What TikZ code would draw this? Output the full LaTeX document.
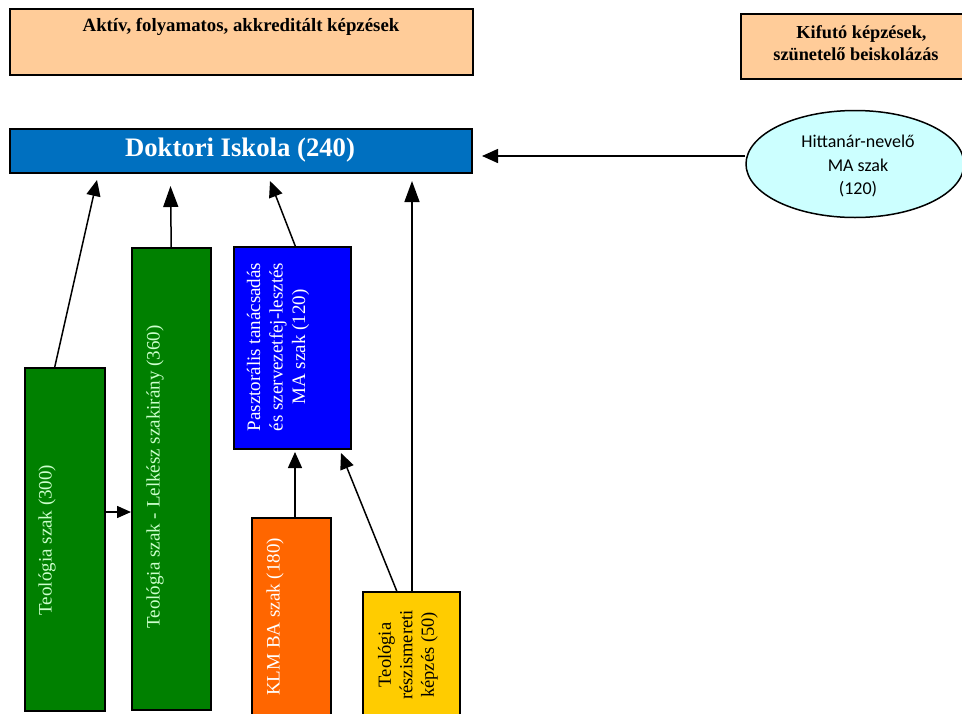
\documentclass[tikz,border=0pt]{standalone}
\usepackage{fontspec}
\setmainfont{Liberation Serif}
\newfontfamily\carlito{Carlito}
\usetikzlibrary{arrows.meta,shapes.geometric}
\definecolor{peach}{HTML}{FFCC99}
\definecolor{docblue}{HTML}{0070C0}
\definecolor{dgreen}{HTML}{008000}
\definecolor{lgreen}{HTML}{CCFFCC}
\definecolor{pblue}{HTML}{0000FF}
\definecolor{korange}{HTML}{FF6600}
\definecolor{tyellow}{HTML}{FFCC00}
\definecolor{lcyan}{HTML}{CCFFFF}
\tikzset{
  box/.style={draw=black, line width=1.5pt, inner sep=0pt, anchor=north west},
  arr/.style={line width=1.5pt, -{Triangle[length=16pt,width=14pt]}},
  arrlong/.style={line width=1.5pt, -{Triangle[length=21pt,width=15pt]}},
  arrsmall/.style={line width=1.5pt, -{Triangle[length=14pt,width=12pt]}},
  vtext/.style={rotate=90, align=center, inner sep=0pt, font=\fontsize{19}{22.5}\selectfont}
}
\begin{document}
\begin{tikzpicture}[x=1pt,y=-1pt]
\useasboundingbox (0,0) rectangle (962,713);
\clip (0,0) rectangle (962,713);
% header boxes
\node[box, fill=peach, minimum width=463pt, minimum height=66pt] (act) at (9,8) {};
\node[font=\bfseries\fontsize{18.8}{20}\selectfont] (actt) at (241,27) {Aktív, folyamatos, akkreditált képzések};
\node[box, fill=peach, minimum width=240pt, minimum height=65pt] (kif) at (740,13) {};
\node[align=center, font=\bfseries\fontsize{18.3}{22}\selectfont] (kift) at (856,43) {\hspace*{0.6em}Kifutó képzések,\\szünetelő beiskolázás};
% doctoral school
\node[box, fill=docblue, minimum width=462pt, minimum height=44pt] (doc) at (9,128) {};
\node[text=white, font=\bfseries\fontsize{26.7}{28}\selectfont] (doct) at (240,150) {Doktori Iskola (240)};
% ellipse
\node[ellipse, draw=black, line width=1.5pt, fill=lcyan, minimum width=218pt, minimum height=107pt, inner sep=0pt] (ell) at (855,164) {};
\node[align=center, font=\carlito\fontsize{18}{23.5}\selectfont] (ellt) at (858,166) {Hittanár-nevelő\\MA szak\\(120)};
% program boxes
\node[box, fill=dgreen, minimum width=80pt, minimum height=343pt] (teo) at (24,367) {};
\node[vtext, text=lgreen] (teot) at (47,540) {Teológia szak (300)};
\node[box, fill=dgreen, minimum width=79pt, minimum height=462pt] (lel) at (131,247) {};
\node[vtext, text=lgreen] (lelt) at (155,477) {Teológia szak - Lelkész szakirány (360)};
\node[box, fill=pblue, minimum width=117pt, minimum height=202pt] (pas) at (233,246) {};
\node[vtext, text=white] (past) at (278,347) {Pasztorális tanácsadás\\és szervezetfej-lesztés\\MA szak (120)};
\node[box, fill=korange, minimum width=79pt, minimum height=220pt] (klm) at (251,517) {};
\node[vtext, text=white] (klmt) at (275,617) {KLM BA szak (180)};
\node[box, fill=tyellow, minimum width=97pt, minimum height=150pt] (yel) at (362,591) {};
\node[vtext, text=black, font=\fontsize{18.5}{21.5}\selectfont] (yelt) at (408,655) {Teológia\\részismereti\\képzés (50)};
% arrow targets
\coordinate (t0) at (482,156);
\coordinate (t1) at (97,180);
\coordinate (t2) at (170.5,186);
\coordinate (t3) at (270,181);
\coordinate (t4) at (412,181);
\coordinate (t5) at (131,512);
\coordinate (t6) at (295,452);
\coordinate (t7) at (341,453);
% connectors
\draw[arr] (ell.west |- t0) -- (t0);
\draw[arr] ([xshift=-10pt]teo.north) -- (t1);
\draw[arrlong] (lel.north) -- (t2);
\draw[arr] ([xshift=3pt]pas.north) -- (t3);
\draw[arrlong] (yel.north -| t4) -- (t4);
\draw[arrsmall] (teo.east |- t5) -- (t5);
\draw[arr] (klm.north -| t6) -- (t6);
\draw[arr] ([xshift=-14.5pt]yel.north) -- (t7);
\end{tikzpicture}
\end{document}
